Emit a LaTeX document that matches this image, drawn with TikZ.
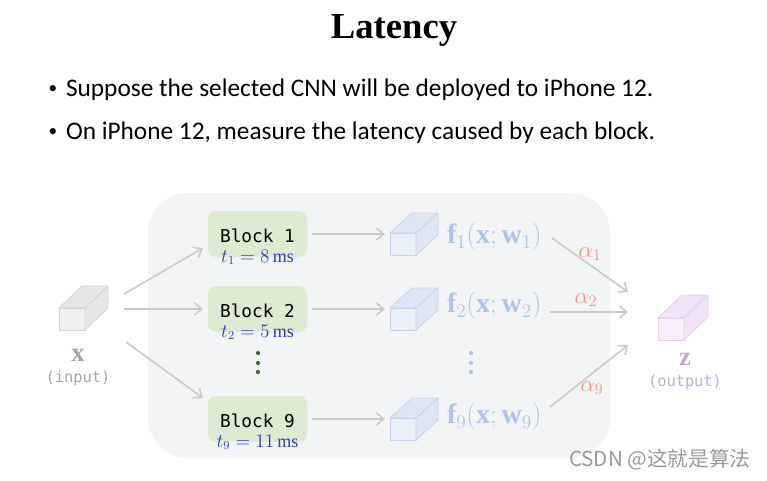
\documentclass[tikz,border=0pt]{standalone}
\usepackage{fontspec}
\usepackage{amsmath}
\setmainfont{Liberation Serif}
\newfontfamily\bodyfont{Carlito}
\newfontfamily\blockfont{DejaVu Sans Mono}
\newfontfamily\cjkfont{Noto Sans CJK SC}
\usetikzlibrary{arrows.meta}
\definecolor{panelc}{HTML}{F3F4F6}
\definecolor{arrowc}{HTML}{C9C9C9}
\definecolor{blockg}{HTML}{DCEBD2}
\definecolor{tblue}{HTML}{2E3DB0}
\definecolor{dotg}{HTML}{3F6A33}
\definecolor{fblue}{HTML}{AFC3E8}
\definecolor{cubebf}{HTML}{EAF0FA}
\definecolor{cubebs}{HTML}{DEE6F4}
\definecolor{cubebd}{HTML}{C7D3EC}
\definecolor{alphac}{HTML}{F0908A}
\definecolor{ingray}{HTML}{A6A6A6}
\definecolor{cubegf}{HTML}{F0F0F0}
\definecolor{cubegs}{HTML}{E6E6E6}
\definecolor{cubegd}{HTML}{D4D4D4}
\definecolor{zc}{HTML}{C3A9D9}
\definecolor{cubepf}{HTML}{F9EFFB}
\definecolor{cubeps}{HTML}{F1E3F5}
\definecolor{cubepd}{HTML}{E5CFEC}
\definecolor{wmc}{HTML}{9A9A9A}
\tikzset{
  txt/.style={inner sep=0pt, outer sep=0pt},
  arr/.style={draw=arrowc, line width=1.2pt, -{Straight Barb[length=5.5pt,width=9pt,line width=1.2pt]}},
  blockbox/.style={draw=none, fill=blockg, rounded corners=6pt, minimum width=74.25pt, minimum height=34.5pt, inner sep=0pt},
  cubefront/.style={minimum width=19.5pt, minimum height=16.5pt, inner sep=0pt, outer sep=0pt, line width=0.6pt},
  blocklbl/.style={txt, font=\blockfont\fontsize{13.3}{15}\selectfont, anchor=base},
  tlbl/.style={txt, text=tblue, font=\fontsize{13.5}{15}\selectfont, anchor=base},
  flbl/.style={txt, text=fblue, font=\fontsize{21}{24}\selectfont, anchor=west},
  albl/.style={txt, text=alphac, font=\fontsize{17}{19}\selectfont},
  bullettxt/.style={txt, font=\bodyfont\fontsize{19}{22}\selectfont, anchor=base west},
  bulletdot/.style={txt, font=\bodyfont\fontsize{13}{15}\selectfont, anchor=center},
}
\newcommand{\drawcube}[9]{%
  \node[cubefront, fill=#4, draw=#6] (#1) at (#2,#3) {};
  \filldraw[fill=#5, draw=#6, line width=0.6pt, line join=round] (#1.north west) -- ++(#7,#8) -- ++(#9,0) -- (#1.north east) -- cycle;
  \filldraw[fill=#5, draw=#6, line width=0.6pt, line join=round] (#1.north east) -- ++(#7,#8) -- ++(0,22) -- (#1.south east) -- cycle;
}
\begin{document}
\begin{tikzpicture}[x=0.75pt,y=-0.75pt]
\fill[white] (0,0) rectangle (767,480);
\useasboundingbox (0,0) rectangle (767,480);

% title and bullets
\node[txt, anchor=base, font=\bfseries\fontsize{27.5}{30}\selectfont] (title) at (394,38) {Latency};
\node[bulletdot] (b1dot) at (53,90) {•};
\node[bullettxt] (l1) at (66,96) {Suppose the selected CNN will be deployed to iPhone 12.};
\node[bulletdot] (b2dot) at (53,133) {•};
\node[bullettxt] (l2) at (66,139) {On iPhone 12, measure the latency caused by each block.};

% panel
\fill[panelc, rounded corners=30pt] (148,193) rectangle (610,458);

% input cube and labels
\drawcube{xin}{72}{319}{cubegf}{cubegs}{cubegd}{23}{-22}{26}
\node[txt, text=ingray, font=\fontsize{20}{22}\selectfont, anchor=base] (xlbl) at (78,361) {$\mathbf{x}$};
\node[txt, text=ingray, font=\blockfont\fontsize{11.5}{13}\selectfont, anchor=center] (inlbl) at (78,378) {(input)};

% blocks
\node[blockbox] (blk1) at (257.5,234) {};
\node[blockbox] (blk2) at (257.5,309) {};
\node[blockbox] (blk9) at (257.5,419) {};
\node[blocklbl] (bt1) at (257.5,242) {Block 1};
\node[blocklbl] (bt2) at (257.5,317) {Block 2};
\node[blocklbl] (bt9) at (257.5,427) {Block 9};
\node[tlbl] (t1) at (257.5,262) {$t_1 = 8\,\mathrm{ms}$};
\node[tlbl] (t2) at (257.5,337) {$t_2 = 5\,\mathrm{ms}$};
\node[tlbl] (t9) at (257.5,447) {$t_9 = 11\,\mathrm{ms}$};
\fill[dotg] (258,353) circle (1.6pt) (258,363) circle (1.6pt) (258,372) circle (1.6pt);

% input arrows
\coordinate (s1) at (124,294);
\coordinate (s2) at (124,309);
\coordinate (s9) at (126,342);
\coordinate (e1) at (203,248);
\coordinate (e2) at (203,309);
\coordinate (e9) at (203,398);
\draw[arr] (s1) -- (e1);
\draw[arr] (s2) -- (e2);
\draw[arr] (s9) -- (e9);

% cubes
\drawcube{c1}{403}{244}{cubebf}{cubebs}{cubebd}{22}{-20}{26}
\drawcube{c2}{403}{319}{cubebf}{cubebs}{cubebd}{22}{-20}{26}
\drawcube{c9}{403}{429}{cubebf}{cubebs}{cubebd}{22}{-20}{26}
\draw[arr, shorten <=3.75pt, shorten >=3.75pt] (blk1.east) -- (blk1.east -| c1.west);
\draw[arr, shorten <=3.75pt, shorten >=3.75pt] (blk2.east) -- (blk2.east -| c2.west);
\draw[arr, shorten <=3.75pt, shorten >=3.75pt] (blk9.east) -- (blk9.east -| c9.west);

% f labels
\node[flbl] (f1) at (447,237) {$\mathbf{f}_1(\mathbf{x};\mathbf{w}_1)$};
\node[flbl] (f2) at (447,306) {$\mathbf{f}_2(\mathbf{x};\mathbf{w}_2)$};
\node[flbl] (f9) at (447,417) {$\mathbf{f}_9(\mathbf{x};\mathbf{w}_9)$};
\fill[fblue] (471,353) circle (1.6pt) (471,363) circle (1.6pt) (471,372) circle (1.6pt);

% output arrows
\coordinate (a1s) at (552,238);
\coordinate (a2s) at (550,312);
\coordinate (a9s) at (550,407);
\coordinate (a1e) at (628,292);
\coordinate (a2e) at (628,312);
\coordinate (a9e) at (628,345);
\draw[arr] (a1s) -- (a1e);
\draw[arr] (a2s) -- (a2e);
\draw[arr] (a9s) -- (a9e);
\node[albl] (al1) at (590,254) {$\alpha_1$};
\node[albl] (al2) at (586,300) {$\alpha_2$};
\node[albl] (al9) at (592,388) {$\alpha_9$};

% output cube and labels
\drawcube{zout}{671}{329}{cubepf}{cubeps}{cubepd}{24}{-23}{24}
\node[txt, text=zc, font=\fontsize{20}{22}\selectfont, anchor=base] (zlbl) at (685,365) {$\mathbf{z}$};
\node[txt, text=zc, font=\blockfont\fontsize{11.5}{13}\selectfont, anchor=center] (outlbl) at (685,382) {(output)};

% watermark
\node[txt, text=wmc, font=\cjkfont\fontsize{15.5}{17}\selectfont, anchor=west] (wm) at (569,460) {CSDN @这就是算法};
\end{tikzpicture}
\end{document}
